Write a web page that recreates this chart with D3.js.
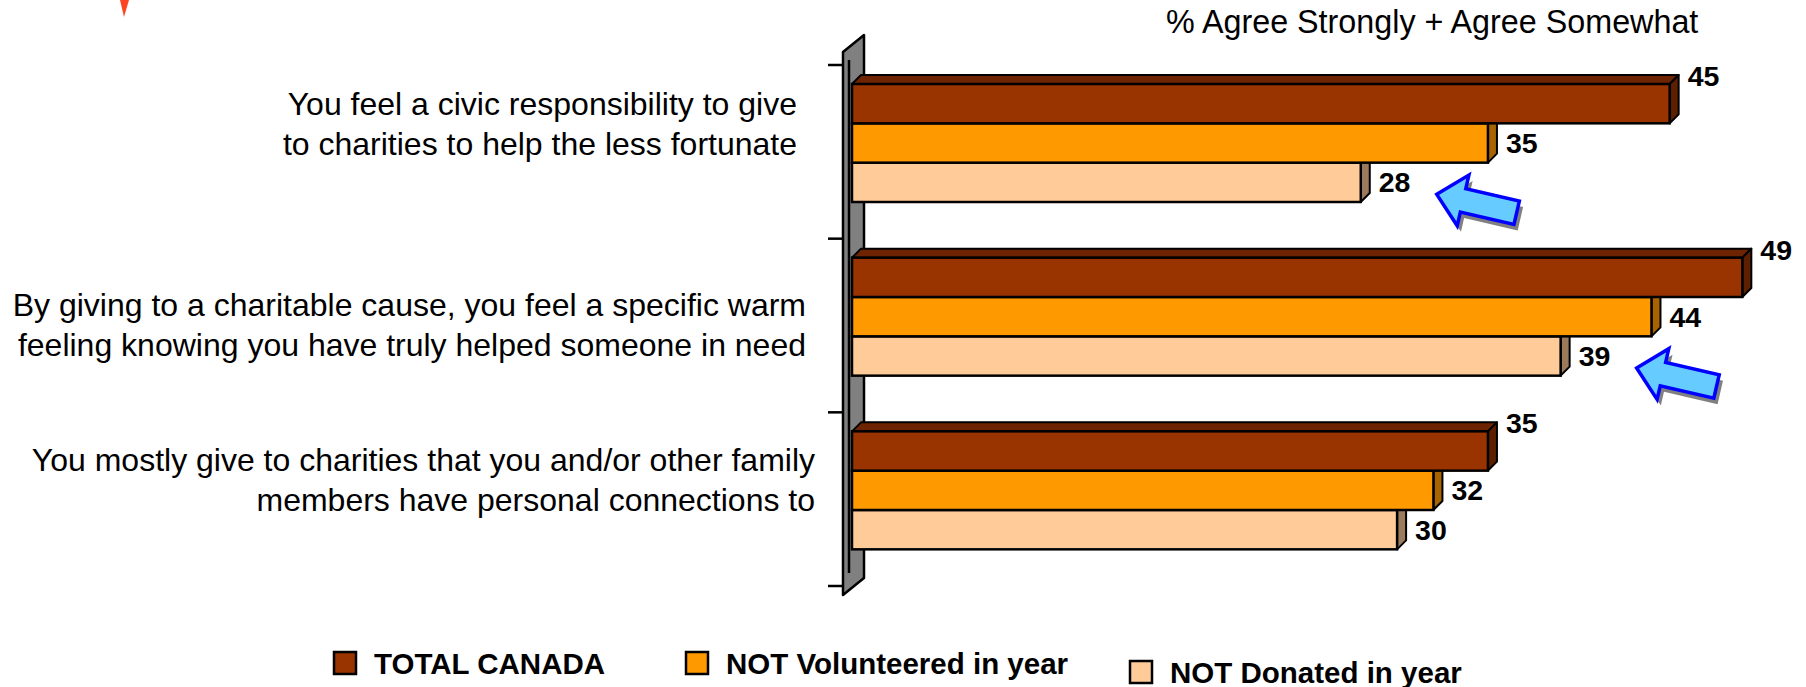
<!DOCTYPE html>
<html>
<head>
<meta charset="utf-8">
<script src="https://cdn.jsdelivr.net/npm/d3@7"></script>
<style>
  body { margin: 0; background: #fff; }
  svg { display: block; font-family: "Liberation Sans", Arial, sans-serif; }
</style>
</head>
<body>
<div id="chart"></div>
<script>
// data
var categories = ["civic", "warm", "family"];
var categoryLines = [
    ["You feel a civic responsibility to give", "to charities to help the less fortunate"],
    ["By giving to a charitable cause, you feel a specific warm", "feeling knowing you have truly helped someone in need"],
    ["You mostly give to charities that you and/or other family", "members have personal connections to"]
];
var seriesNames = ["TOTAL CANADA", "NOT Volunteered in year", "NOT Donated in year"];
var totalCanada = [45, 49, 35];
var notVolunteered = [35, 44, 32];
var notDonated = [28, 39, 30];
var highlighted = [0, 1];   // categories marked with arrows
var subtitle = "% Agree Strongly + Agree Somewhat";

var seriesValues = [totalCanada, notVolunteered, notDonated];
var frontColors = ["#993300", "#FF9900", "#FFCC99"];
var sideColors = ["#5c1f00", "#a86400", "#9c7a5c"];
var topColors = ["#6e2400", "#c07500", "#c9a07a"];

var width = 1806, height = 687;
var depth = 9;  // 3D depth of the bars

var svg = d3.select("#chart").append("svg")
    .attr("width", width)
    .attr("height", height);

// scales
var xScale = d3.scaleLinear()
    .domain([0, 50])
    .range([852, 852 + 50 * 18.17]);

var yScale = d3.scaleBand()
    .domain(categories)
    .range([65, 586])
    .padding(0);

var inner = d3.scaleBand()
    .domain(d3.range(seriesNames.length))
    .range([19, 137])
    .padding(0);

// small red shape cut off at top left
svg.append("polygon")
    .attr("points", "120,0 129,0 124,17")
    .attr("fill", "#ff4422");

// subtitle
svg.append("text")
    .attr("x", 1166)
    .attr("y", 33)
    .attr("font-size", "32.3px")
    .attr("fill", "#000")
    .text(subtitle);

// side wall (gray panel)
var wallX = 843, wallTop = 52, wallBottom = 595, wdx = 21, wdy = -17;
svg.append("polygon")
    .attr("points", [
        [wallX, wallTop], [wallX + wdx, wallTop + wdy],
        [wallX + wdx, wallBottom + wdy], [wallX, wallBottom]
    ].map(p => p.join(",")).join(" "))
    .attr("fill", "#808080")
    .attr("stroke", "#000")
    .attr("stroke-width", 2.5)
    .attr("stroke-linejoin", "round");

svg.append("line")
    .attr("x1", 849).attr("x2", 849)
    .attr("y1", 60).attr("y2", 573)
    .attr("stroke", "#000")
    .attr("stroke-width", 2.5);

// tick marks on the category axis
var tickYs = categories.map(c => yScale(c)).concat([yScale.range()[1]]);
svg.selectAll("line.tick")
    .data(tickYs)
    .enter()
    .append("line")
    .attr("class", "tick")
    .attr("x1", 828).attr("x2", 843)
    .attr("y1", d => d).attr("y2", d => d)
    .attr("stroke", "#000")
    .attr("stroke-width", 2.5);

// bars, drawn bottom series first so upper bars cover hidden faces
var bars = [];
categories.forEach(function (c, ci) {
    seriesValues.forEach(function (vals, si) {
        bars.push({ cat: c, ci: ci, si: si, v: vals[ci] });
    });
});
bars.sort((a, b) => b.si - a.si);

var barG = svg.selectAll("g.bar")
    .data(bars)
    .enter()
    .append("g")
    .attr("class", "bar");

function pts(arr) { return arr.map(p => p.join(",")).join(" "); }

barG.append("polygon")  // top face
    .attr("points", function (d) {
        var x0 = xScale(0), x1 = xScale(d.v), y = yScale(d.cat) + inner(d.si);
        return pts([[x0, y], [x0 + depth, y - depth], [x1 + depth, y - depth], [x1, y]]);
    })
    .attr("fill", d => topColors[d.si])
    .attr("stroke", "#000")
    .attr("stroke-width", 2)
    .attr("stroke-linejoin", "round");

barG.append("polygon")  // side face
    .attr("points", function (d) {
        var x1 = xScale(d.v), y = yScale(d.cat) + inner(d.si), h = inner.bandwidth();
        return pts([[x1, y], [x1 + depth, y - depth], [x1 + depth, y + h - depth], [x1, y + h]]);
    })
    .attr("fill", d => sideColors[d.si])
    .attr("stroke", "#000")
    .attr("stroke-width", 2)
    .attr("stroke-linejoin", "round");

barG.append("rect")  // front face
    .attr("x", xScale(0))
    .attr("y", d => yScale(d.cat) + inner(d.si))
    .attr("width", d => xScale(d.v) - xScale(0))
    .attr("height", inner.bandwidth())
    .attr("fill", d => frontColors[d.si])
    .attr("stroke", "#000")
    .attr("stroke-width", 2.5);

// value labels
svg.selectAll("text.value")
    .data(bars)
    .enter()
    .append("text")
    .attr("class", "value")
    .attr("x", d => xScale(d.v) + depth + 9)
    .attr("y", function (d) {
        var y = yScale(d.cat) + inner(d.si);
        return d.si === 0 ? y - 8 : y + inner.bandwidth() / 2;
    })
    .attr("dominant-baseline", "central")
    .attr("font-size", "28.5px")
    .attr("font-weight", "bold")
    .attr("fill", "#000")
    .text(d => d.v);

// category labels
var labelNudge = [-19, 8, -10];
var lineGap = 40;
var catG = svg.selectAll("text.cat")
    .data(categories)
    .enter()
    .append("text")
    .attr("class", "cat")
    .attr("text-anchor", "end")
    .attr("font-size", "32px")
    .attr("fill", "#000");

catG.each(function (c, i) {
    var lines = categoryLines[i];
    var cy = yScale(c) + (inner.range()[0] + inner.range()[1]) / 2 + labelNudge[i];
    var x = 797 + 9 * i;
    d3.select(this).selectAll("tspan")
        .data(lines)
        .enter()
        .append("tspan")
        .attr("x", x)
        .attr("y", (l, li) => cy + (li - (lines.length - 1) / 2) * lineGap)
        .attr("dominant-baseline", "central")
        .text(l => l);
});

// highlight arrows pointing at the NOT Donated bars
var arrowShape = [[0, 0], [27, -26], [27, -12], [82, -12], [82, 12], [27, 12], [27, 26]];
highlighted.forEach(function (ci) {
    var c = categories[ci];
    var tipX = xScale(notDonated[ci]) + 76;
    var tipY = yScale(c) + inner(2) + inner.bandwidth() / 2 + 12;
    var g = svg.append("g")
        .attr("transform", "translate(" + tipX + "," + tipY + ") rotate(13)");
    g.append("polygon")
        .attr("points", pts(arrowShape))
        .attr("transform", "translate(5,5)")
        .attr("fill", "#808080");
    g.append("polygon")
        .attr("points", pts(arrowShape))
        .attr("fill", "#66ccff")
        .attr("stroke", "#0000ff")
        .attr("stroke-width", 3.5)
        .attr("stroke-linejoin", "miter");
});

// legend
var legendX = [334, 686, 1130];
var legendY = [663, 663, 672];
var legend = svg.selectAll("g.legend")
    .data(seriesNames)
    .enter()
    .append("g")
    .attr("class", "legend")
    .attr("transform", (d, i) => "translate(" + legendX[i] + "," + legendY[i] + ")");

legend.append("rect")
    .attr("x", 0).attr("y", -11)
    .attr("width", 22).attr("height", 22)
    .attr("fill", (d, i) => frontColors[i])
    .attr("stroke", "#000")
    .attr("stroke-width", 2.5);

legend.append("text")
    .attr("x", 40)
    .attr("y", 0)
    .attr("dominant-baseline", "central")
    .attr("font-size", "29.5px")
    .attr("font-weight", "bold")
    .attr("fill", "#000")
    .text(d => d);
</script>
</body>
</html>
